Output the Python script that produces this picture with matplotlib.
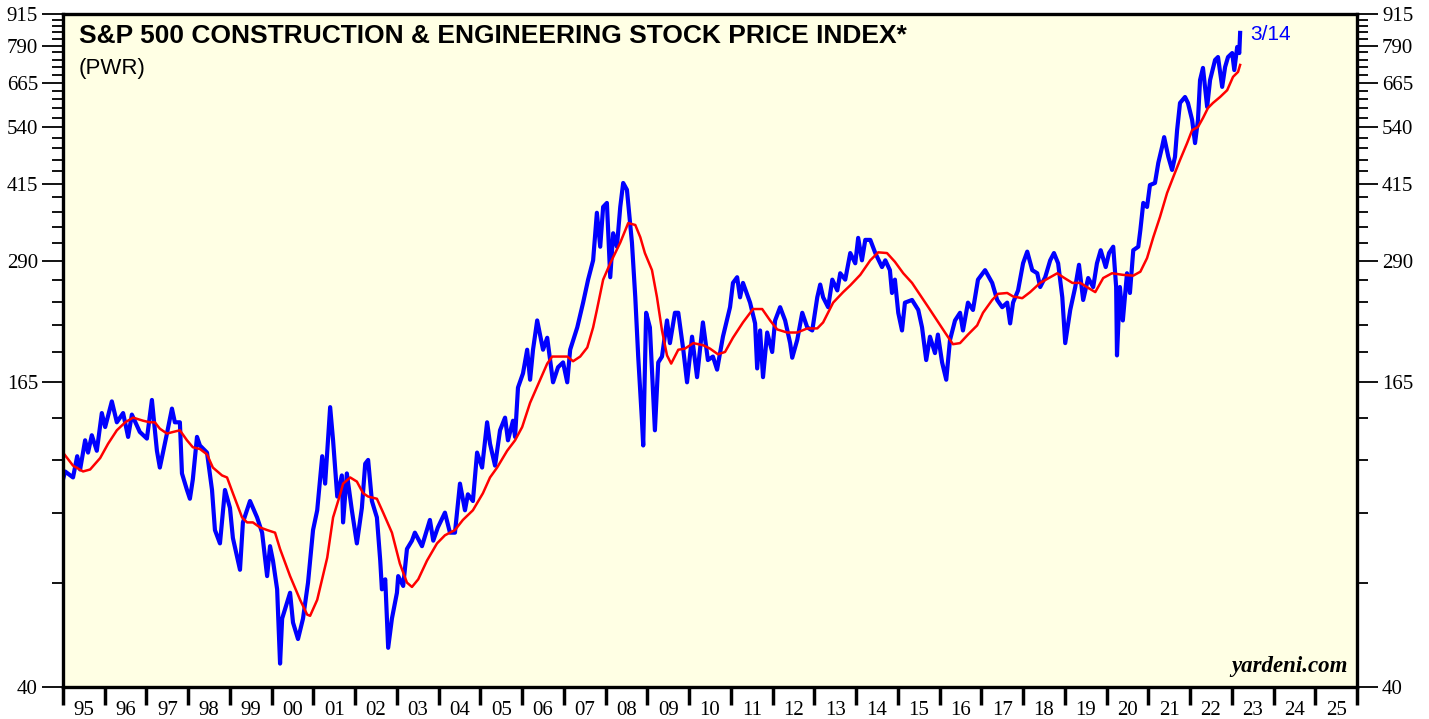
import matplotlib
matplotlib.use("Agg")
from matplotlib import pyplot as plt
from matplotlib.ticker import FixedLocator, NullFormatter, FixedFormatter

# PWR index (decimal year, index level)
price_t = [1995.00, 1995.05, 1995.24, 1995.34, 1995.41, 1995.53, 1995.60, 1995.69, 1995.81, 1995.93,
           1996.01, 1996.17, 1996.29, 1996.44, 1996.56, 1996.65, 1996.84, 1997.01, 1997.13, 1997.25,
           1997.32, 1997.49, 1997.61, 1997.68, 1997.80, 1997.85, 1997.97, 1998.04, 1998.11, 1998.21,
           1998.28, 1998.45, 1998.57, 1998.64, 1998.76, 1998.88, 1999.00, 1999.07, 1999.24, 1999.31,
           1999.48, 1999.65, 1999.77, 1999.89, 1999.96, 2000.03, 2000.13, 2000.20, 2000.25, 2000.44,
           2000.51, 2000.63, 2000.75, 2000.87, 2000.99, 2001.09, 2001.21, 2001.28, 2001.40, 2001.47,
           2001.57, 2001.68, 2001.71, 2001.80, 2001.92, 2002.04, 2002.16, 2002.24, 2002.31, 2002.40,
           2002.52, 2002.60, 2002.64, 2002.72, 2002.79, 2002.88, 2003.00, 2003.03, 2003.15, 2003.24,
           2003.36, 2003.43, 2003.60, 2003.79, 2003.87, 2003.98, 2004.15, 2004.27, 2004.39, 2004.51,
           2004.63, 2004.70, 2004.82, 2004.92, 2005.04, 2005.16, 2005.23, 2005.35, 2005.47, 2005.59,
           2005.66, 2005.78, 2005.83, 2005.90, 2006.02, 2006.12, 2006.19, 2006.26, 2006.36, 2006.50,
           2006.60, 2006.74, 2006.86, 2006.98, 2007.08, 2007.15, 2007.32, 2007.46, 2007.58, 2007.70,
           2007.79, 2007.87, 2007.94, 2008.03, 2008.11, 2008.18, 2008.27, 2008.35, 2008.42, 2008.51,
           2008.63, 2008.71, 2008.78, 2008.87, 2008.90, 2008.97, 2009.06, 2009.11, 2009.18, 2009.26,
           2009.35, 2009.47, 2009.54, 2009.66, 2009.74, 2009.86, 2009.95, 2010.07, 2010.19, 2010.33,
           2010.45, 2010.57, 2010.67, 2010.81, 2010.98, 2011.05, 2011.15, 2011.22, 2011.29, 2011.46,
           2011.58, 2011.63, 2011.70, 2011.77, 2011.87, 2011.99, 2012.06, 2012.18, 2012.30, 2012.42,
           2012.47, 2012.59, 2012.71, 2012.83, 2012.95, 2013.07, 2013.14, 2013.21, 2013.33, 2013.43,
           2013.55, 2013.62, 2013.74, 2013.86, 2013.98, 2014.05, 2014.14, 2014.22, 2014.34, 2014.46,
           2014.62, 2014.70, 2014.81, 2014.86, 2014.93, 2015.01, 2015.10, 2015.17, 2015.34, 2015.49,
           2015.58, 2015.68, 2015.77, 2015.89, 2015.96, 2016.06, 2016.16, 2016.25, 2016.37, 2016.49,
           2016.56, 2016.68, 2016.80, 2016.92, 2017.09, 2017.26, 2017.38, 2017.50, 2017.62, 2017.69,
           2017.76, 2017.88, 2018.00, 2018.10, 2018.22, 2018.34, 2018.41, 2018.53, 2018.65, 2018.74,
           2018.84, 2018.94, 2019.01, 2019.13, 2019.25, 2019.34, 2019.44, 2019.56, 2019.68, 2019.77,
           2019.86, 2019.98, 2020.06, 2020.16, 2020.23, 2020.25, 2020.32, 2020.39, 2020.49, 2020.56,
           2020.64, 2020.76, 2020.81, 2020.88, 2020.97, 2021.04, 2021.16, 2021.24, 2021.33, 2021.38,
           2021.48, 2021.57, 2021.64, 2021.69, 2021.76, 2021.88, 2021.95, 2022.05, 2022.12, 2022.19,
           2022.24, 2022.31, 2022.41, 2022.48, 2022.60, 2022.67, 2022.77, 2022.84, 2022.91, 2023.01,
           2023.06, 2023.13, 2023.18, 2023.20]
price_v = [105, 109, 106, 117, 110, 126, 119, 129, 120, 143,
           134, 151, 137, 143, 128, 142, 131, 127, 152, 120,
           111, 130, 146, 137, 137, 108, 100, 96, 105, 128,
           123, 119, 100, 83, 78, 100, 92, 80, 69, 86,
           95, 88, 82, 67, 77, 72, 63, 44.6, 55, 62,
           54, 50, 55, 65, 83, 91, 117, 103, 147, 126,
           97, 107, 86, 108, 91, 78, 92, 113, 115, 95,
           88, 72, 63, 66, 48, 55, 62, 67, 64, 76,
           79, 82, 77, 87, 79, 84, 90, 82, 82, 103,
           91, 98, 95, 119, 111, 137, 124, 112, 132, 140,
           126, 138, 128, 161, 172, 192, 167, 192, 220, 192,
           203, 165, 177, 181, 165, 192, 213, 239, 266, 291,
           363, 310, 373, 380, 269, 330, 310, 373, 417, 404,
           316, 245, 186, 138, 123, 228, 213, 175, 132, 181,
           186, 220, 198, 228, 228, 192, 165, 204, 169, 218,
           183, 186, 175, 204, 234, 262, 269, 245, 262, 239,
           217, 176, 210, 169, 208, 190, 220, 234, 220, 198,
           185, 201, 228, 213, 210, 245, 260, 245, 234, 266,
           253, 274, 266, 301, 287, 323, 291, 320, 320, 301,
           282, 291, 278, 250, 266, 228, 210, 239, 242, 231,
           213, 183, 204, 189, 206, 181, 167, 201, 220, 228,
           210, 239, 231, 266, 278, 262, 242, 234, 239, 217,
           239, 253, 287, 303, 278, 274, 257, 269, 291, 301,
           287, 245, 198, 231, 257, 285, 242, 268, 257, 287,
           305, 282, 301, 310, 257, 187, 257, 220, 274, 250,
           305, 310, 335, 380, 373, 413, 417, 458, 493, 516,
           471, 443, 471, 533, 605, 622, 605, 559, 502, 559,
           673, 712, 594, 673, 739, 749, 652, 715, 749, 763,
           705, 785, 763, 838]

# moving average (red)
avg_t = [1995.00, 1995.24, 1995.48, 1995.65, 1995.89, 1996.08, 1996.29, 1996.49, 1996.68, 1996.92,
         1997.08, 1997.20, 1997.32, 1997.49, 1997.64, 1997.80, 1997.97, 1998.11, 1998.28, 1998.45,
         1998.59, 1998.81, 1998.93, 1999.07, 1999.29, 1999.41, 1999.55, 1999.72, 1999.89, 2000.08,
         2000.20, 2000.44, 2000.68, 2000.85, 2000.92, 2001.09, 2001.33, 2001.47, 2001.64, 2001.71,
         2001.88, 2002.04, 2002.19, 2002.31, 2002.52, 2002.67, 2002.88, 2003.07, 2003.24, 2003.36,
         2003.51, 2003.72, 2003.96, 2004.15, 2004.39, 2004.58, 2004.82, 2005.06, 2005.23, 2005.40,
         2005.64, 2005.83, 2006.00, 2006.19, 2006.43, 2006.60, 2006.72, 2006.91, 2007.08, 2007.22,
         2007.39, 2007.56, 2007.70, 2007.79, 2007.94, 2008.11, 2008.35, 2008.54, 2008.71, 2008.83,
         2008.94, 2009.11, 2009.23, 2009.35, 2009.47, 2009.57, 2009.74, 2009.90, 2010.10, 2010.34,
         2010.50, 2010.69, 2010.86, 2011.05, 2011.29, 2011.53, 2011.75, 2011.94, 2012.11, 2012.35,
         2012.59, 2012.83, 2013.07, 2013.21, 2013.45, 2013.69, 2013.86, 2014.10, 2014.34, 2014.53,
         2014.74, 2014.93, 2015.13, 2015.34, 2015.53, 2015.73, 2015.94, 2016.13, 2016.32, 2016.49,
         2016.68, 2016.90, 2017.04, 2017.26, 2017.40, 2017.62, 2017.76, 2017.98, 2018.17, 2018.41,
         2018.65, 2018.82, 2018.96, 2019.18, 2019.37, 2019.56, 2019.73, 2019.92, 2020.13, 2020.39,
         2020.64, 2020.81, 2020.97, 2021.12, 2021.28, 2021.45, 2021.60, 2021.76, 2021.93, 2022.05,
         2022.19, 2022.31, 2022.43, 2022.55, 2022.72, 2022.89, 2023.03, 2023.15, 2023.20]
avg_v = [119, 112, 109, 110, 116, 124, 132, 137, 140, 138,
         137, 137, 133, 130, 131, 132, 126, 122, 121, 118,
         111, 107, 106, 98.5, 88, 86, 86, 84, 83, 82,
         76, 67, 60, 56, 55.7, 60, 73, 88, 98, 103,
         106, 104, 98.5, 97, 96, 90, 82, 71, 65, 63.7,
         66, 72, 78, 81, 83, 87, 91, 98.5, 106, 111,
         120, 126, 134, 150, 167, 180, 186, 186, 186, 182,
         186, 194, 213, 231, 266, 287, 316, 346, 343, 324,
         301, 278, 245, 210, 187, 180, 192, 193, 198, 196,
         193, 188, 190, 203, 218, 232, 232, 220, 211, 208,
         208, 212, 212, 218, 239, 251, 259, 272, 291, 302,
         301, 289, 274, 262, 248, 234, 220, 208, 197, 198,
         206, 215, 228, 242, 249, 250, 246, 244, 251, 262,
         269, 274, 269, 262, 262, 256, 251, 268, 274, 272,
         271, 276, 294, 324, 356, 398, 429, 464, 502, 533,
         541, 564, 591, 605, 622, 642, 683, 699, 722]

y_major = [40, 165, 290, 415, 540, 665, 790, 915]
y_minor = [v for v in range(65, 915, 25) if v not in y_major]
years = list(range(1995, 2027))
year_labels = ["%02d" % (y % 100) for y in range(1995, 2026)]

serif = "Liberation Serif"
sans = "Liberation Sans"

fig = plt.figure(figsize=(14.29, 7.19), dpi=100)
ax = fig.add_axes([63 / 1429, 1 - 687 / 719, 1294 / 1429, 673 / 719])
ax.set_facecolor("#ffffe4")

ax.plot(price_t, price_v, color="#0000ff", lw=3.0, solid_joinstyle="round")
ax.plot(avg_t, avg_v, color="#ff0000", lw=1.8)

ax.set_yscale("log")
ax.set_ylim(40, 915)
ax.set_xlim(1995, 2026)

ax.yaxis.set_major_locator(FixedLocator(y_major))
ax.yaxis.set_major_formatter(FixedFormatter([str(v) for v in y_major]))
ax.yaxis.set_minor_locator(FixedLocator(y_minor))
ax.yaxis.set_minor_formatter(NullFormatter())
ax.tick_params(axis="y", which="both", direction="out", left=True, right=True,
               labelleft=True, labelright=True, colors="black")
ax.tick_params(axis="y", which="major", length=15, width=1.3, pad=3, labelsize=15)
ax.tick_params(axis="y", which="minor", length=8, width=1.3)
for lab in ax.get_yticklabels():
    lab.set_fontfamily(serif)

ax.xaxis.set_major_locator(FixedLocator(years))
ax.xaxis.set_major_formatter(NullFormatter())
ax.xaxis.set_minor_locator(FixedLocator([y + 0.5 for y in range(1995, 2026)]))
ax.xaxis.set_minor_formatter(FixedFormatter(year_labels))
ax.tick_params(axis="x", which="major", direction="out", length=13, width=2.5)
ax.tick_params(axis="x", which="minor", length=0, pad=10, labelsize=15)
for lab in ax.get_xticklabels(minor=True):
    lab.set_fontfamily(serif)

for sp in ax.spines.values():
    sp.set_linewidth(2.4)

ax.text(0.0124, 0.985, "S&P 500 CONSTRUCTION & ENGINEERING STOCK PRICE INDEX*",
        transform=ax.transAxes, ha="left", va="top", fontsize=19,
        fontweight="bold", fontfamily=sans)
ax.text(0.0124, 0.935, "(PWR)", transform=ax.transAxes, ha="left", va="top",
        fontsize=16, fontfamily=sans)
ax.text(2023.45, 830, "3/14", color="#0000ff", fontsize=15, fontfamily=sans,
        ha="left", va="center")
ax.text(0.9925, 0.015, "yardeni.com", transform=ax.transAxes, ha="right", va="bottom",
        fontsize=16.5, fontweight="bold", fontstyle="italic", fontfamily=serif)

fig.savefig("out.png", dpi=100)
